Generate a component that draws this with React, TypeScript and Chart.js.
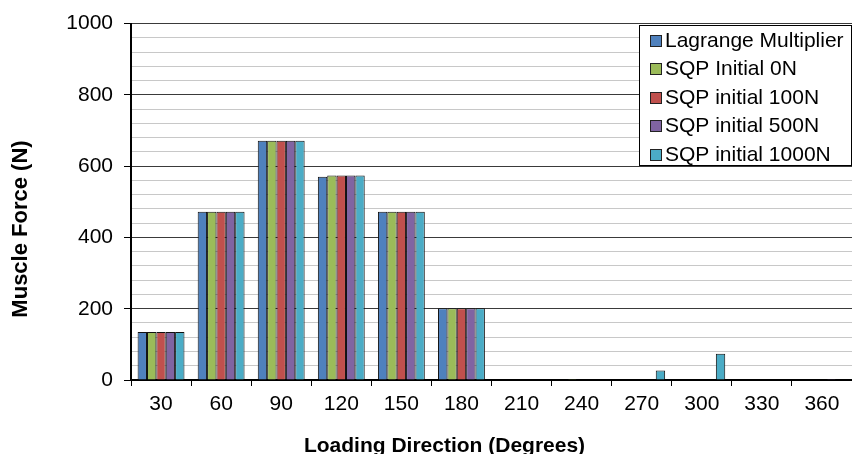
import React, { useEffect, useRef } from "react";
import { Chart, registerables } from "chart.js";

Chart.register(...registerables);

const categories = ["30", "60", "90", "120", "150", "180", "210", "240", "270", "300", "330", "360"];
const lagrange = [135, 472, 671, 570, 472, 201, 0, 0, 0, 0, 0, 0];
const sqp0 = [135, 472, 671, 574, 472, 201, 0, 2.5, 0, 0, 0, 0];
const sqp100 = [135, 472, 671, 574, 472, 201, 0, 0, 0, 0, 0, 0];
const sqp500 = [135, 472, 671, 574, 472, 201, 0, 0, 0, 0, 0, 2.5];
const sqp1000 = [135, 472, 671, 574, 472, 201, 0, 0, 27, 74, 0, 0];
const seriesNames = ["Lagrange Multiplier", "SQP Initial 0N", "SQP initial 100N", "SQP initial 500N", "SQP initial 1000N"];
const seriesColors = ["#4F81BD", "#9BBB59", "#C0504D", "#8064A2", "#4BACC6"];
const xTitle = "Loading Direction (Degrees)";
const yTitle = "Muscle Force (N)";

const FONT = '"Liberation Sans", Arial, sans-serif';

const overlayPlugin = {
  id: "overlay",
  afterDraw(chart: any) {
    const ctx = chart.ctx as CanvasRenderingContext2D;
    ctx.save();
    // legend box
    ctx.fillStyle = "#ffffff";
    ctx.fillRect(639.5, 25.5, 212, 140);
    ctx.strokeStyle = "#000000";
    ctx.lineWidth = 1;
    ctx.strokeRect(639.5, 25.5, 212, 140);
    ctx.font = `21px ${FONT}`;
    ctx.textBaseline = "middle";
    ctx.textAlign = "left";
    chart.data.datasets.forEach((ds: any, i: number) => {
      const y = 40 + i * 28.5;
      ctx.fillStyle = ds.backgroundColor;
      ctx.fillRect(650.5, Math.round(y - 5.5) + 0.5, 11, 11);
      ctx.strokeStyle = "#222222";
      ctx.strokeRect(650.5, Math.round(y - 5.5) + 0.5, 11, 11);
      ctx.fillStyle = "#000000";
      ctx.fillText(ds.label, 665, y + 1);
    });
    // axis titles
    ctx.font = `bold 21px ${FONT}`;
    ctx.textAlign = "center";
    ctx.textBaseline = "alphabetic";
    ctx.fillStyle = "#000000";
    ctx.fillText(xTitle, 444.5, 452);
    ctx.save();
    ctx.translate(27, 229);
    ctx.rotate(-Math.PI / 2);
    ctx.font = `bold 22px ${FONT}`;
    ctx.fillText(yTitle, 0, 0);
    ctx.restore();
    ctx.restore();
  },
};

export default function App() {
  const canvasRef = useRef<HTMLCanvasElement | null>(null);

  useEffect(() => {
    const canvas = canvasRef.current;
    if (!canvas) return;
    const allSeries = [lagrange, sqp0, sqp100, sqp500, sqp1000];
    const chart = new Chart(canvas, {
      type: "bar",
      data: {
        labels: categories,
        datasets: allSeries.map((d, i) => ({
          label: seriesNames[i],
          data: d,
          backgroundColor: seriesColors[i],
          borderColor: "#111111",
          borderWidth: 1,
          barPercentage: 1,
          categoryPercentage: 0.78,
        })),
      },
      options: {
        responsive: false,
        animation: false,
        devicePixelRatio: 1,
        layout: { padding: { top: 21, right: 0, left: 0, bottom: 0 } },
        plugins: {
          legend: { display: false },
          tooltip: { enabled: false },
        },
        scales: {
          x: {
            afterFit(scale: any) {
              scale.height = 74;
            },
            grid: {
              offset: true,
              drawOnChartArea: false,
              drawTicks: true,
              tickLength: 6,
              tickColor: "#000000",
              tickWidth: 1,
            },
            border: { display: true, color: "#000000", width: 2 },
            ticks: {
              color: "#000000",
              font: { family: FONT, size: 21 },
              padding: 6,
              maxRotation: 0,
              autoSkip: false,
            },
          },
          y: {
            min: 0,
            max: 1000,
            afterFit(scale: any) {
              scale.width = 131;
            },
            grid: {
              color: (c: any) => (c.tick && c.tick.value % 200 === 0 ? "#3a3a3a" : "#c8c8c8"),
              tickColor: (c: any) => (c.tick && c.tick.value % 200 === 0 ? "#000000" : "rgba(0,0,0,0)"),
              lineWidth: 1,
              tickLength: 7,
              drawTicks: true,
            },
            border: { display: true, color: "#000000", width: 2 },
            ticks: {
              stepSize: 40,
              autoSkip: false,
              color: "#000000",
              font: { family: FONT, size: 21 },
              padding: 11,
              callback: (v: any) => (Number(v) % 200 === 0 ? String(v) : ""),
            },
          },
        },
      },
      plugins: [overlayPlugin],
    });
    return () => chart.destroy();
  }, []);

  return (
    <div style={{ position: "fixed", left: 0, top: 0, width: 852, height: 454, background: "#ffffff" }}>
      <canvas ref={canvasRef} width={852} height={454} style={{ display: "block", width: 852, height: 454 }} />
    </div>
  );
}
